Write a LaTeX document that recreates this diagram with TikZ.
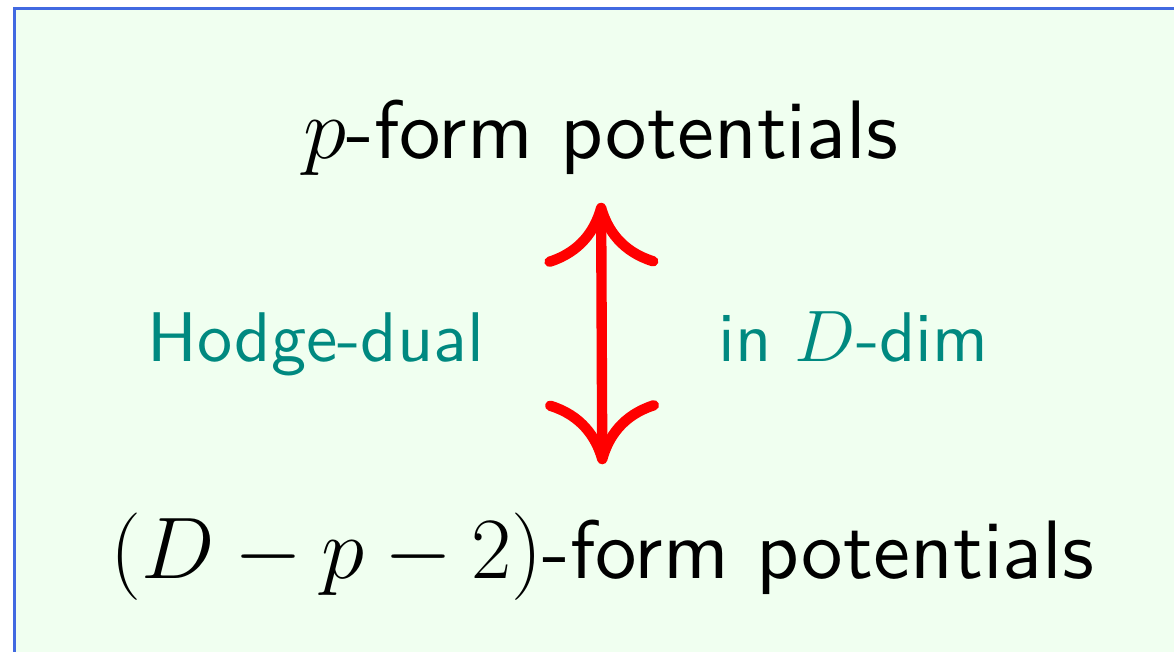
\documentclass[tikz,border=0pt]{standalone}
\usepackage{amsmath,amssymb}
\usepackage{fontspec}
\setsansfont{lmsans10-regular.otf}
\usepackage{xcolor}
\usetikzlibrary{arrows.meta,positioning}
\definecolor{FrameBlue}{RGB}{65,105,225}
\definecolor{PanelGreen}{RGB}{240,255,240}
\definecolor{DualTeal}{RGB}{0,137,128}
\definecolor{DualRed}{RGB}{255,0,0}
\tikzset{
  formtxt/.style={inner sep=0pt,anchor=base,text=black,
                  font=\sffamily\fontsize{23.6}{28}\selectfont},
  dualtxt/.style={inner sep=0pt,anchor=base,text=DualTeal,
                  font=\sffamily\fontsize{20}{24}\selectfont},
  dualarrow/.style={{Computer Modern Rightarrow[length=6.4mm,width=11.4mm]}-{Computer Modern Rightarrow[length=6.4mm,width=11.4mm]},
                    line width=2.95pt,DualRed},
}
\begin{document}
\begin{tikzpicture}
  \useasboundingbox (0,0) rectangle (11.74,6.51);
  \clip (0,0) rectangle (11.74,6.51);
  \draw[FrameBlue,fill=PanelGreen,line width=0.85pt] (0.145,-1) rectangle (13,6.425);

  \node[formtxt] (upper) at (6.01,4.93) {$p$-form potentials};
  \node[formtxt] (lower) at (6.025,0.73) {$(D-p-2)$-form potentials};

  \draw[dualarrow,shorten <=4.75mm,shorten >=2.7mm] (lower.north) -- (upper.south);

  \node[dualtxt] (hodge) at (3.16,2.90) {Hodge-dual};
  \node[dualtxt] (dim) at (8.535,2.90) {in $D$-dim};
\end{tikzpicture}
\end{document}
